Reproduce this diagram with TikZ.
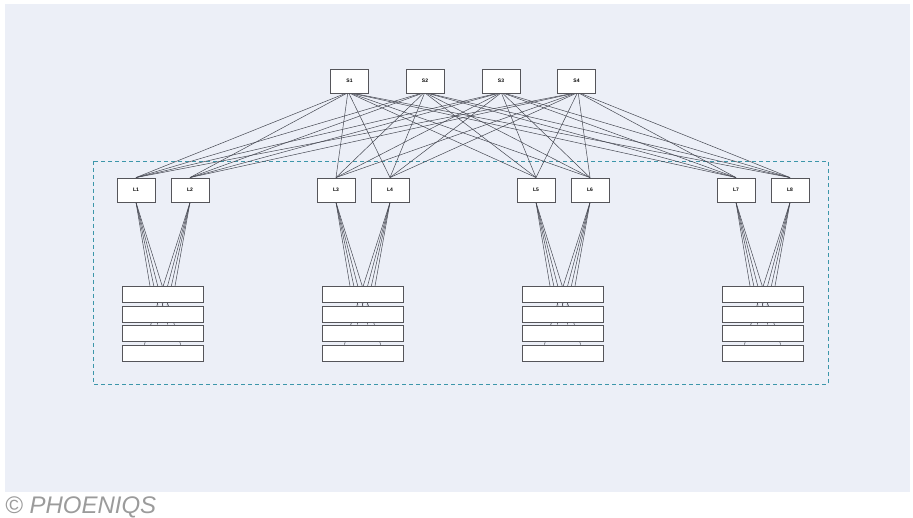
\documentclass[tikz,border=0pt]{standalone}
\usepackage{fontspec}
\setmainfont{Liberation Sans}
\usetikzlibrary{calc}
\pgfdeclarelayer{back}\pgfdeclarelayer{mid}
\pgfsetlayers{back,mid,main}
\definecolor{bgc}{RGB}{236,239,247}
\definecolor{dashteal}{RGB}{60,150,170}
\definecolor{boxc}{RGB}{85,85,90}
\definecolor{linec}{RGB}{70,72,82}
\definecolor{footc}{RGB}{155,155,155}
\begin{document}
\begin{tikzpicture}[x=1pt,y=-1pt,
 swbox/.style={draw=boxc,fill=white,line width=0.9pt,minimum width=38pt,minimum height=24pt,inner sep=0pt,font=\bfseries\fontsize{5}{5}\selectfont},
 srvbox/.style={draw=boxc,fill=white,line width=0.9pt,minimum width=81pt,minimum height=16pt,inner sep=0pt},
 link/.style={draw=linec,line width=0.5pt}]
\useasboundingbox (0,0) rectangle (913,518);
\begin{pgfonlayer}{back}
\fill[bgc] (5,4) rectangle (910,492);
\draw[dashteal, line width=0.8pt, dash pattern=on 4pt off 3pt] (93,161) rectangle (828,384);
\end{pgfonlayer}
\foreach \i/\x in {1/349.5,2/425,3/501,4/576.5}
  \node[swbox] (s\i) at (\x,81) {S\i};
\foreach \i/\x in {1/136,2/190,3/336,4/390,5/536,6/590,7/736,8/790}
  \node[swbox] (l\i) at (\x,190) {L\i};
\foreach \g/\x in {1/162.5,2/362.5,3/562.5,4/762.5}
  \foreach \k/\y in {1/294.5,2/314,3/333,4/353}
    \node[srvbox] (v\g\k) at (\x,\y) {};
\begin{pgfonlayer}{mid}
\foreach \s in {1,...,4}
  \foreach \l in {1,...,8}
    \draw[link] ($(s\s.south)+({(\l-4.5)*1.2},0)$) -- (l\l.north);
\foreach \g in {1,...,4}
  \foreach \k/\d in {1/-12.5,2/-4.5,3/5.3,4/18.1} {
    \pgfmathtruncatemacro\la{2*\g-1}
    \pgfmathtruncatemacro\lb{2*\g}
    \draw[link] (l\la.south) -- ($(v\g\k.north)+(\d,0)$);
    \draw[link] (l\lb.south) -- ($(v\g\k.north)+({-\d},0)$);
  }
\end{pgfonlayer}
\node[anchor=base west, text=footc, inner sep=0pt, font=\itshape\fontsize{24}{24}\selectfont] (ft) at (5,513) {© PHOENIQS};
\end{tikzpicture}
\end{document}
